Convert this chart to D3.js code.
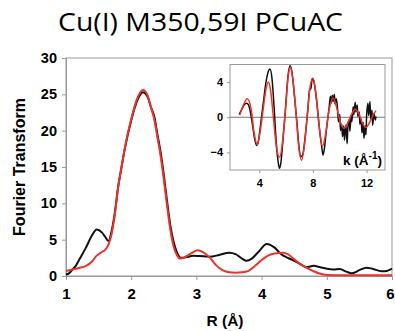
<!DOCTYPE html>
<html>
<head>
<meta charset="utf-8">
<script src="https://cdn.jsdelivr.net/npm/d3@7"></script>
<style>
  html, body { margin: 0; padding: 0; background: #fff; }
  svg.vis { display: block; }
</style>
</head>
<body>
<svg class="vis" width="395" height="331"></svg>
<script>

// Fourier transform, data (black)
const rData = [1.0, 1.05, 1.1, 1.15, 1.2, 1.3, 1.4, 1.47, 1.55, 1.6, 1.65, 1.7, 1.75, 1.8, 1.85, 1.9, 2.0, 2.1, 2.18, 2.25,
    2.3, 2.36, 2.4, 2.45, 2.5, 2.55, 2.6, 2.65, 2.7, 2.77, 2.85, 2.95, 3.05, 3.2, 3.35, 3.5, 3.6, 3.7, 3.77, 3.85,
    3.95, 4.08, 4.2, 4.3, 4.4, 4.5, 4.6, 4.69, 4.8, 4.9, 5.0, 5.1, 5.2, 5.3, 5.38, 5.5, 5.61, 5.7, 5.84, 5.92, 6.0];
const ftData = [0.2, 0.4, 0.9, 1.4, 2.2, 3.8, 5.6, 6.4, 6.0, 5.4, 4.8, 6.2, 8.8, 12.3, 14.9, 17.4, 21.4, 24.3, 25.3, 24.7,
    23.3, 21.7, 19.6, 17.1, 13.9, 10.3, 7.0, 4.7, 3.3, 2.5, 2.6, 2.8, 2.75, 2.65, 2.9, 3.2, 3.0, 2.4, 2.1, 2.4,
    3.3, 4.4, 3.9, 3.0, 2.5, 2.1, 1.6, 1.2, 1.4, 1.2, 1.0, 0.9, 0.95, 0.6, 0.37, 0.8, 1.15, 1.0, 0.65, 0.7, 1.0];

// Fourier transform, fit (red)
const rFit = [1.0, 1.1, 1.2, 1.3, 1.4, 1.47, 1.55, 1.6, 1.65, 1.7, 1.75, 1.8, 1.85, 1.9, 2.0, 2.1, 2.18, 2.25, 2.3, 2.36,
    2.4, 2.45, 2.5, 2.55, 2.6, 2.65, 2.7, 2.75, 2.8, 2.9, 3.02, 3.1, 3.2, 3.3, 3.4, 3.5, 3.6, 3.7, 3.8, 3.9,
    4.0, 4.1, 4.2, 4.33, 4.4, 4.5, 4.6, 4.7, 4.8, 4.9, 5.0, 5.2, 5.6, 6.0];
const ftFit = [0.7, 0.9, 1.1, 1.35, 2.0, 2.8, 3.3, 3.6, 4.3, 5.8, 8.5, 12.2, 14.9, 17.5, 21.6, 24.6, 25.6, 24.9, 23.3, 21.3,
    19.2, 16.6, 13.3, 9.7, 6.4, 4.1, 2.9, 2.4, 2.5, 3.0, 3.55, 3.3, 2.6, 1.5, 0.8, 0.5, 0.45, 0.5, 0.7, 1.4,
    2.2, 2.8, 3.1, 3.2, 3.0, 2.3, 1.6, 1.1, 0.65, 0.3, 0.15, 0.1, 0.1, 0.1];

// EXAFS inset, data (black)
const kData = [2.5, 2.7, 2.9, 3.05, 3.2, 3.35, 3.5, 3.65, 3.8, 3.95, 4.1, 4.3, 4.5, 4.65, 4.8, 4.95, 5.1, 5.25, 5.4, 5.5,
    5.6, 5.75, 5.95, 6.15, 6.3, 6.45, 6.6, 6.8, 6.95, 7.1, 7.25, 7.4, 7.6, 7.75, 7.85, 7.95, 8.05, 8.2, 8.35, 8.5,
    8.65, 8.75, 8.85, 9.0, 9.1, 9.2, 9.3, 9.35, 9.45, 9.5, 9.6, 9.65, 9.75, 9.85, 9.9, 10.0, 10.05, 10.15, 10.2, 10.3,
    10.35, 10.45, 10.5, 10.55, 10.6, 10.7, 10.75, 10.85, 10.9, 11.0, 11.05, 11.15, 11.2, 11.3, 11.35, 11.45, 11.5, 11.6, 11.65, 11.75,
    11.8, 11.9, 11.95, 12.0, 12.1, 12.15, 12.25, 12.3, 12.4, 12.45, 12.55, 12.65, 12.7];
const chiData = [0.3, 0.9, 1.45, 1.6, 1.4, 0.5, -0.9, -2.4, -3.2, -2.6, -0.8, 1.6, 4.0, 5.1, 5.5, 4.4, 1.3, -2.5, -5.0, -5.8,
    -5.3, -2.9, 0.9, 4.8, 5.85, 5.0, 2.8, -0.5, -3.2, -4.5, -4.2, -2.5, 0.5, 3.1, 3.3, 4.4, 4.2, 2.8, 0.8, -1.5,
    -3.3, -4.3, -3.6, -1.5, -0.2, 1.0, 2.4, 1.6, 2.5, 1.8, 2.6, 1.5, 2.1, 0.6, -0.5, 0.3, -1.5, -0.8, -2.2, -1.0,
    -2.6, -0.9, -1.8, -3.0, -1.2, -0.3, -1.6, 0.2, -0.5, 1.2, 0.3, 1.7, 0.6, 1.4, 0.1, 0.6, -0.8, -0.2, -1.8, -0.6,
    -2.4, -1.0, -2.0, 0.2, 1.6, 0.2, 1.8, -0.2, 0.8, -0.9, 0.4, -0.3, 0.1];

// EXAFS inset, fit (red)
const kFit = [2.55, 2.8, 3.1, 3.4, 3.6, 3.85, 4.05, 4.3, 4.5, 4.67, 4.85, 5.05, 5.3, 5.52, 5.75, 5.95, 6.15, 6.32, 6.5, 6.75,
    6.95, 7.15, 7.35, 7.6, 7.8, 8.0, 8.2, 8.45, 8.7, 8.9, 9.2, 9.5, 9.8, 10.05, 10.3, 10.6, 10.9, 11.15, 11.45, 11.7,
    11.95, 12.25, 12.5, 12.7];
const chiFit = [0.25, 1.3, 2.1, 0.9, -1.6, -3.1, -1.8, 1.0, 3.2, 4.0, 3.0, 0.0, -3.6, -4.55, -2.6, 0.8, 4.6, 5.7, 4.4, 0.3,
    -3.5, -4.9, -3.4, 0.6, 3.6, 4.45, 3.0, -0.8, -3.3, -2.3, 0.8, 2.2, 0.9, -0.6, -1.25, -0.6, 0.4, 0.9, 0.3, -0.7,
    -1.15, -0.5, 0.3, 0.75];

const rTicks = [1, 2, 3, 4, 5, 6];
const ftTicks = [0, 5, 10, 15, 20, 25, 30];
const kTicks = [4, 8, 12];
const chiTicks = [-4, 0, 4];

const vis = {

    dims: {
        main: { left: 66, right: 392, top: 58, bottom: 276 },
        inset: { left: 230, right: 385, top: 64.5, bottom: 170 }
    },

    colors: {
        data: "#111111",
        fit: "#f0312a",
        axis: "#999999"
    },

    sels: { svg: null },

    scales: {},

    f: {

        make_scales: function() {
            const m = vis.dims.main, i = vis.dims.inset;
            vis.scales.x = d3.scaleLinear().domain([1, 6]).range([m.left, m.right]);
            vis.scales.y = d3.scaleLinear().domain([0, 30]).range([m.bottom, m.top]);
            vis.scales.kx = d3.scaleLinear().domain([1.82, 13.37]).range([i.left, i.right]);
            vis.scales.ky = d3.scaleLinear().domain([-6, 6]).range([i.bottom, i.top]);
        },

        pairs: function(xs, ys) {
            return xs.map((x, j) => [x, ys[j]]);
        }

    },

    draw: {

        title: function() {
            vis.sels.svg.append("text")
                .attr("x", 58)
                .attr("y", 31)
                .attr("textLength", 285)
                .attr("lengthAdjust", "spacingAndGlyphs")
                .style("font-family", "'Open Sans', sans-serif")
                .style("font-size", "25px")
                .style("fill", "#000")
                .text("Cu(I) M350,59I PCuAC");
        },

        main: function() {
            const svg = vis.sels.svg, x = vis.scales.x, y = vis.scales.y, m = vis.dims.main;

            // frame
            svg.append("rect")
                .attr("x", m.left).attr("y", m.top)
                .attr("width", m.right - m.left).attr("height", m.bottom - m.top)
                .attr("fill", "none").attr("stroke", vis.colors.axis).attr("stroke-width", 1);

            const xAxis = svg.append("g")
                .attr("transform", `translate(0,${m.bottom})`)
                .call(d3.axisBottom(x).tickValues(rTicks).tickSize(4).tickPadding(8).tickFormat(d3.format("d")));
            const yAxis = svg.append("g")
                .attr("transform", `translate(${m.left},0)`)
                .call(d3.axisLeft(y).tickValues(ftTicks).tickSize(4).tickPadding(5).tickFormat(d3.format("d")));

            [xAxis, yAxis].forEach(g => {
                g.select(".domain").attr("stroke", vis.colors.axis);
                g.selectAll(".tick line").attr("stroke", vis.colors.axis);
                g.selectAll(".tick text")
                    .style("font-family", "'Liberation Sans', Arial, sans-serif")
                    .style("font-weight", "bold")
                    .style("fill", "#000");
            });
            xAxis.selectAll(".tick text").style("font-size", "15px");
            // keep the last label inside the picture
            xAxis.selectAll(".tick text").filter(d => d === 6).attr("dx", -2);
            yAxis.selectAll(".tick text").style("font-size", "14.5px");

            const line = d3.line()
                .x(d => x(d[0])).y(d => y(d[1]))
                .curve(d3.curveMonotoneX);

            svg.append("path")
                .datum(vis.f.pairs(rData, ftData))
                .attr("d", line)
                .attr("fill", "none").attr("stroke", vis.colors.data).attr("stroke-width", 2);

            svg.append("path")
                .datum(vis.f.pairs(rFit, ftFit))
                .attr("d", line)
                .attr("fill", "none").attr("stroke", vis.colors.fit).attr("stroke-width", 2);

            svg.append("text")
                .attr("x", 225).attr("y", 326)
                .attr("text-anchor", "middle")
                .style("font-family", "'Liberation Sans', Arial, sans-serif")
                .style("font-weight", "bold").style("font-size", "15.5px")
                .text("R (Å)");

            svg.append("text")
                .attr("transform", "translate(25,167) rotate(-90)")
                .attr("text-anchor", "middle")
                .style("font-family", "'Liberation Sans', Arial, sans-serif")
                .style("font-weight", "bold").style("font-size", "16px")
                .text("Fourier Transform");
        },

        inset: function() {
            const svg = vis.sels.svg, x = vis.scales.kx, y = vis.scales.ky, i = vis.dims.inset;

            svg.append("rect")
                .attr("x", i.left).attr("y", i.top)
                .attr("width", i.right - i.left).attr("height", i.bottom - i.top)
                .attr("fill", "#fff").attr("stroke", vis.colors.axis).attr("stroke-width", 1);

            svg.append("line")
                .attr("x1", i.left).attr("x2", i.right)
                .attr("y1", y(0)).attr("y2", y(0))
                .attr("stroke", "#777").attr("stroke-width", 1);

            const xAxis = svg.append("g")
                .attr("transform", `translate(0,${i.bottom})`)
                .call(d3.axisBottom(x).tickValues(kTicks).tickSize(3).tickPadding(6).tickFormat(d3.format("d")));
            const yAxis = svg.append("g")
                .attr("transform", `translate(${i.left},0)`)
                .call(d3.axisLeft(y).tickValues(chiTicks).tickSize(3).tickPadding(4).tickFormat(d3.format("d")));

            [xAxis, yAxis].forEach(g => {
                g.select(".domain").remove();
                g.selectAll(".tick line").attr("stroke", vis.colors.axis);
                g.selectAll(".tick text")
                    .style("font-family", "'Liberation Sans', Arial, sans-serif")
                    .style("font-weight", "bold")
                    .style("font-size", "11px")
                    .style("fill", "#000");
            });

            const line = d3.line()
                .x(d => x(d[0])).y(d => y(d[1]))
                .curve(d3.curveMonotoneX);

            svg.append("path")
                .datum(vis.f.pairs(kData, chiData))
                .attr("d", line)
                .attr("fill", "none").attr("stroke", vis.colors.data).attr("stroke-width", 1.5);

            svg.append("path")
                .datum(vis.f.pairs(kFit, chiFit))
                .attr("d", line)
                .attr("fill", "none").attr("stroke", vis.colors.fit).attr("stroke-width", 1.5);

            const lab = svg.append("text")
                .attr("x", 382).attr("y", 165)
                .attr("text-anchor", "end")
                .style("font-family", "'Liberation Sans', Arial, sans-serif")
                .style("font-weight", "bold").style("font-size", "13.5px");
            lab.append("tspan").text("k (Å");
            lab.append("tspan").attr("dy", -6).style("font-size", "10px").text("-1");
            lab.append("tspan").attr("dy", 6).text(")");
        }

    },

    control: {
        init: function() {
            vis.sels.svg = d3.select("svg.vis");
            vis.f.make_scales();
            vis.draw.title();
            vis.draw.main();
            vis.draw.inset();
        }
    }

};

vis.control.init();
</script>
</body>
</html>
